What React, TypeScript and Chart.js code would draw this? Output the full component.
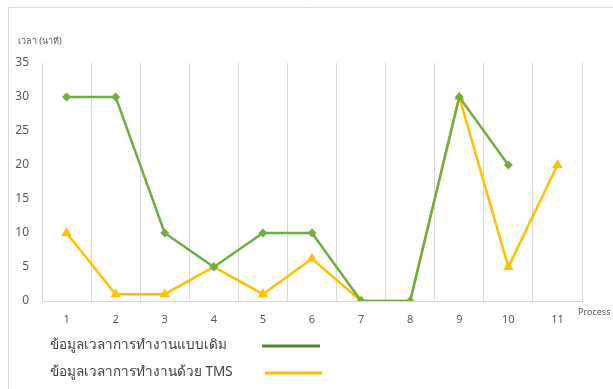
import React, { useEffect, useRef } from "react";
import { Chart, registerables } from "chart.js";

Chart.register(...registerables);

const categories = ["1", "2", "3", "4", "5", "6", "7", "8", "9", "10", "11"];
const traditionalTimes: (number | null)[] = [30, 30, 10, 5, 10, 10, 0, 0, 30, 20, null];
const tmsTimes: (number | null)[] = [10, 1, 1, 5, 1, 6.2, 0, 0, 30, 5, 20];
const seriesNames = ["ข้อมูลเวลาการทำงานแบบเดิม", "ข้อมูลเวลาการทำงานด้วย TMS"];
const yAxisTitle = "เวลา (นาที)";
const xAxisTitle = "Process";

const FONT = "'Noto Sans', 'DejaVu Sans', sans-serif";

const overlayPlugin = {
  id: "overlay",
  afterDraw(chart: any) {
    const ctx = chart.ctx as CanvasRenderingContext2D;
    ctx.save();
    // outer frame
    ctx.strokeStyle = "#d9d9d9";
    ctx.lineWidth = 1;
    ctx.beginPath();
    ctx.moveTo(8.5, 389);
    ctx.lineTo(8.5, 7.5);
    ctx.lineTo(613, 7.5);
    ctx.stroke();
    // axis titles
    ctx.fillStyle = "#595959";
    ctx.font = `9px ${FONT}`;
    ctx.textBaseline = "middle";
    ctx.textAlign = "left";
    ctx.fillText(yAxisTitle, 18, 41);
    ctx.fillText(xAxisTitle, chart.chartArea.right - 4, 312);
    // legend
    const colors = ["#548235", "#FFC000"];
    const rows = [346, 373];
    ctx.font = `13.5px ${FONT}`;
    ctx.fillStyle = "#404040";
    seriesNames.forEach((name, i) => {
      ctx.fillText(name, 50, rows[i] - 1);
      ctx.strokeStyle = colors[i];
      ctx.lineWidth = 3;
      ctx.beginPath();
      ctx.moveTo(262 + i * 3, rows[i]);
      ctx.lineTo(320 + i * 2, rows[i]);
      ctx.stroke();
    });
    ctx.restore();
  },
};

export default function App() {
  const canvasRef = useRef<HTMLCanvasElement | null>(null);

  useEffect(() => {
    document.body.style.margin = "0";
    const canvas = canvasRef.current;
    if (!canvas) return;
    const chart = new Chart(canvas, {
      type: "line",
      data: {
        labels: categories,
        datasets: [
          {
            label: seriesNames[0],
            data: traditionalTimes,
            borderColor: "#70AD47",
            backgroundColor: "#70AD47",
            borderWidth: 2.5,
            pointStyle: "rectRot",
            pointRadius: 4.5,
            pointBorderWidth: 0,
            tension: 0,
          },
          {
            label: seriesNames[1],
            data: tmsTimes,
            borderColor: "#FFC000",
            backgroundColor: "#FFC000",
            borderWidth: 2.5,
            pointStyle: "triangle",
            pointRadius: 6,
            pointBorderWidth: 0,
            tension: 0,
          },
        ],
      },
      options: {
        animation: false,
        responsive: false,
        maintainAspectRatio: false,
        layout: { padding: { top: 63, right: 31, left: 0, bottom: 0 } },
        plugins: {
          legend: { display: false },
          tooltip: { enabled: false },
        },
        scales: {
          x: {
            type: "category",
            offset: true,
            grid: { offset: true, color: "#d9d9d9", drawTicks: false, lineWidth: 1 },
            border: { color: "#d9d9d9", width: 1 },
            ticks: { color: "#595959", font: { family: FONT, size: 11 }, padding: 12, maxRotation: 0 },
            afterFit(scale: any) {
              scale.height = 88;
            },
          },
          y: {
            min: 0,
            max: 35,
            ticks: { stepSize: 5, color: "#595959", font: { family: FONT, size: 12 }, padding: 13 },
            grid: { display: false, drawTicks: false },
            border: { display: false },
            afterFit(scale: any) {
              scale.width = 42;
            },
          },
        },
      },
      plugins: [overlayPlugin],
    });
    return () => chart.destroy();
  }, []);

  return (
    <div style={{ width: 613, height: 389 }}>
      <canvas ref={canvasRef} width={613} height={389} style={{ display: "block", width: 613, height: 389 }} />
    </div>
  );
}
